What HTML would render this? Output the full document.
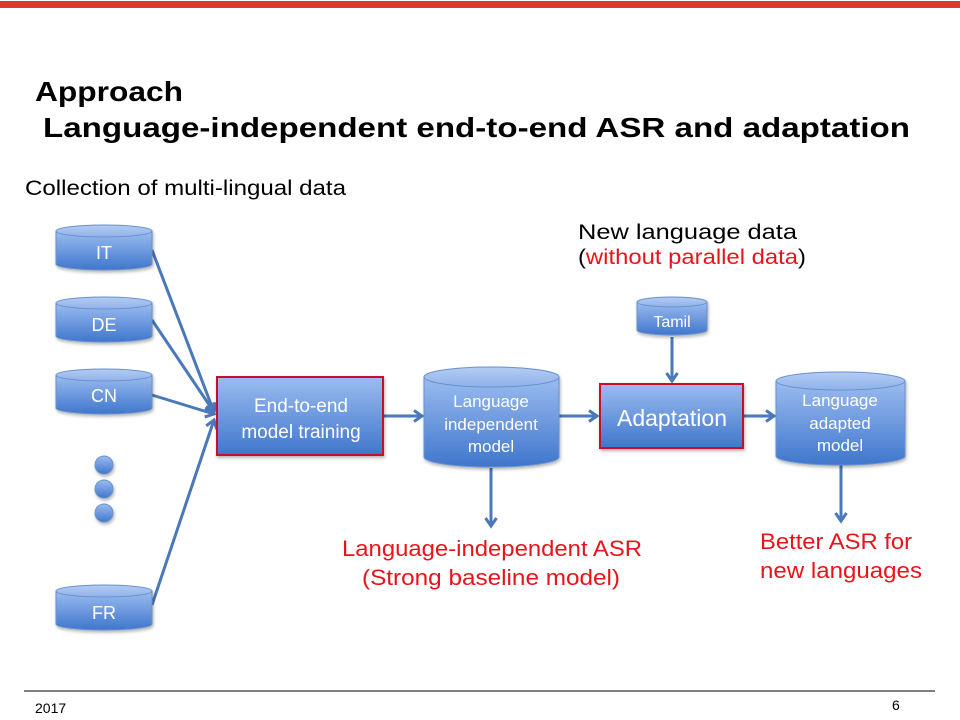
<!DOCTYPE html>
<html><head><meta charset="utf-8"><style>
html,body{margin:0;padding:0;background:#fff}
svg{display:block}
text{font-family:"Liberation Sans",Arial,sans-serif}
</style></head><body>
<svg width="960" height="720" viewBox="0 0 960 720" xmlns="http://www.w3.org/2000/svg">
<defs>
<linearGradient id="g" x1="0" y1="0" x2="0" y2="1">
<stop offset="0" stop-color="#9bbcf0"/><stop offset="1" stop-color="#3f76cc"/>
</linearGradient>
<linearGradient id="gt" x1="0" y1="0" x2="0" y2="1">
<stop offset="0" stop-color="#b4ccf2"/><stop offset="1" stop-color="#8fb2ea"/>
</linearGradient>
<marker id="a" markerWidth="14" markerHeight="14" refX="10" refY="7" orient="auto" markerUnits="userSpaceOnUse">
<path d="M2,1.5 L10,7 L2,12.5" fill="none" stroke="#4a78b8" stroke-width="3"/>
</marker>
<filter id="sh" x="-10%" y="-10%" width="130%" height="130%"><feDropShadow dx="1" dy="2" stdDeviation="1.5" flood-opacity="0.3"/></filter>
</defs>
<rect x="0" y="1" width="960" height="7" fill="#e0382c"/>
<text x="35" y="101" font-size="28" font-weight="bold" textLength="148" lengthAdjust="spacingAndGlyphs">Approach</text>
<text x="43" y="137" font-size="28" font-weight="bold" textLength="867" lengthAdjust="spacingAndGlyphs">Language-independent  end-to-end  ASR and adaptation</text>
<text x="25" y="195" font-size="21" textLength="321" lengthAdjust="spacingAndGlyphs">Collection of multi-lingual data</text>
<text x="578" y="239" font-size="21" textLength="219" lengthAdjust="spacingAndGlyphs">New language data</text>
<text x="578" y="264" font-size="21" textLength="228" lengthAdjust="spacingAndGlyphs">(<tspan fill="#e8141b">without parallel data</tspan>)</text>

<g stroke="#4a78b8" stroke-width="3" marker-end="url(#a)" fill="none">
<line x1="152" y1="250" x2="214" y2="412"/>
<line x1="152" y1="320" x2="214" y2="412"/>
<line x1="152" y1="395" x2="214" y2="414"/>
<line x1="152" y1="605" x2="214" y2="420"/>
<line x1="384" y1="416" x2="422" y2="416"/>
<line x1="559" y1="416" x2="597" y2="416"/>
<line x1="744" y1="416" x2="774" y2="416"/>
<line x1="672" y1="337" x2="672" y2="381"/>
<line x1="491" y1="468" x2="491" y2="526"/>
<line x1="841" y1="465" x2="841" y2="521"/>
</g>

<g filter="url(#sh)">
<path d="M56,231 v33 a48,6 0 0 0 96,0 v-33 z" fill="url(#g)" stroke="#6a92cc"/><ellipse cx="104" cy="231" rx="48" ry="6" fill="url(#gt)" stroke="#6a92cc"/>
<path d="M56,303 v33 a48,6 0 0 0 96,0 v-33 z" fill="url(#g)" stroke="#6a92cc"/><ellipse cx="104" cy="303" rx="48" ry="6" fill="url(#gt)" stroke="#6a92cc"/>
<path d="M56,375 v33 a48,6 0 0 0 96,0 v-33 z" fill="url(#g)" stroke="#6a92cc"/><ellipse cx="104" cy="375" rx="48" ry="6" fill="url(#gt)" stroke="#6a92cc"/>
<path d="M56,591 v33 a48,6 0 0 0 96,0 v-33 z" fill="url(#g)" stroke="#6a92cc"/><ellipse cx="104" cy="591" rx="48" ry="6" fill="url(#gt)" stroke="#6a92cc"/>
<path d="M637,302 v28 a35,5 0 0 0 70,0 v-28 z" fill="url(#g)" stroke="#6a92cc"/><ellipse cx="672" cy="302" rx="35" ry="5" fill="url(#gt)" stroke="#6a92cc"/>
<path d="M424,377 v80 a67.5,10 0 0 0 135,0 v-80 z" fill="url(#g)" stroke="#6a92cc"/><ellipse cx="491.5" cy="377" rx="67.5" ry="10" fill="url(#gt)" stroke="#6a92cc"/>
<path d="M776,381 v75 a64.5,9 0 0 0 129,0 v-75 z" fill="url(#g)" stroke="#6a92cc"/><ellipse cx="840.5" cy="381" rx="64.5" ry="9" fill="url(#gt)" stroke="#6a92cc"/>
<rect x="217" y="377" width="166" height="78" fill="url(#g)" stroke="#c8102e" stroke-width="2"/>
<rect x="600" y="384" width="143" height="64" fill="url(#g)" stroke="#c8102e" stroke-width="2"/>
<circle cx="104" cy="465" r="9" fill="url(#g)" stroke="#6a92cc"/>
<circle cx="104" cy="489" r="9" fill="url(#g)" stroke="#6a92cc"/>
<circle cx="104" cy="513" r="9" fill="url(#g)" stroke="#6a92cc"/>
</g>

<g fill="#fff" font-size="18" text-anchor="middle">
<text x="104" y="259">IT</text>
<text x="104" y="331">DE</text>
<text x="104" y="402">CN</text>
<text x="104" y="619">FR</text>
<text x="672" y="327" font-size="16">Tamil</text>
<text x="301" y="412" font-size="19">End-to-end</text>
<text x="301" y="438" font-size="19">model  training</text>
<text x="672" y="426" font-size="23">Adaptation</text>
<text x="491" y="407" font-size="17">Language</text>
<text x="491" y="430" font-size="17">independent</text>
<text x="491" y="452" font-size="17">model</text>
<text x="840" y="406" font-size="17">Language</text>
<text x="840" y="429" font-size="17">adapted</text>
<text x="840" y="451" font-size="17">model</text>
</g>

<g fill="#e8141b" font-size="22">
<text x="342" y="556" textLength="300" lengthAdjust="spacingAndGlyphs">Language-independent ASR</text>
<text x="362" y="585" textLength="258" lengthAdjust="spacingAndGlyphs">(Strong baseline model)</text>
<text x="760" y="549" textLength="152" lengthAdjust="spacingAndGlyphs">Better ASR  for</text>
<text x="760" y="578" textLength="162" lengthAdjust="spacingAndGlyphs">new languages</text>
</g>

<rect x="24" y="690" width="911" height="2" fill="#808080"/>
<text x="35" y="713" font-size="14">2017</text>
<text x="892" y="710" font-size="14">6</text>
</svg>
</body></html>
